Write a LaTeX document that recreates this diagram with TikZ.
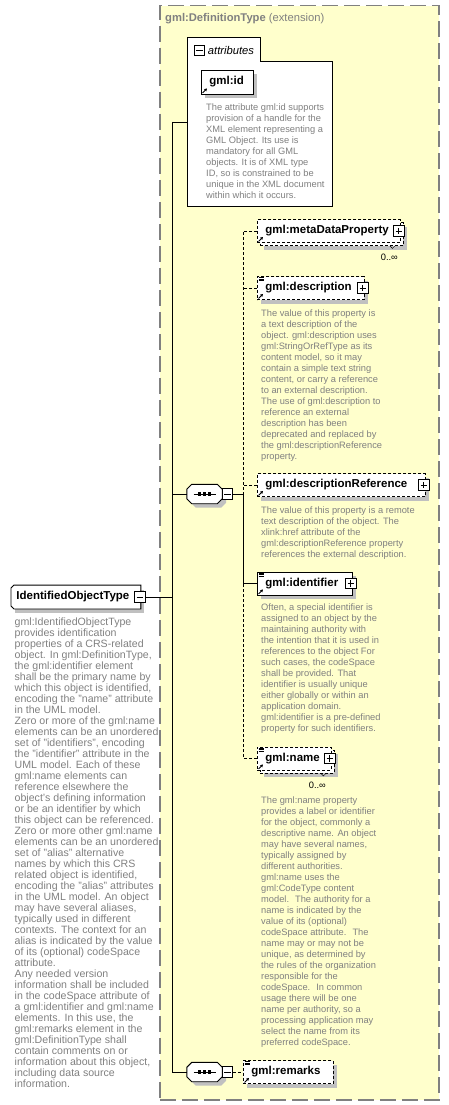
\documentclass[tikz,border=0pt]{standalone}
\usepackage{fontspec}
\setmainfont{Liberation Sans}
\usetikzlibrary{arrows.meta, positioning, calc, shadows}

\definecolor{colExt}{RGB}{255,255,204}
\definecolor{colFrame}{RGB}{128,128,128}
\definecolor{colDoc}{RGB}{128,128,128}
\definecolor{colShade}{RGB}{192,192,192}

% compositor octagon around an empty node: shadow, body, dots
\newcommand{\seqshape}[1]{%
  \fill[colShade, transform canvas={shift={(4pt,-4pt)}}]
    ([xshift=5pt]#1.north west) -- ([xshift=-5pt]#1.north east) -- ([yshift=-5pt]#1.north east)
    -- ([yshift=5pt]#1.south east) -- ([xshift=-5pt]#1.south east) -- ([xshift=5pt]#1.south west)
    -- ([yshift=5pt]#1.south west) -- ([yshift=-5pt]#1.north west) -- cycle;
  \draw[wire, fill=white]
    ([xshift=5pt]#1.north west) -- ([xshift=-5pt]#1.north east) -- ([yshift=-5pt]#1.north east)
    -- ([yshift=5pt]#1.south east) -- ([xshift=-5pt]#1.south east) -- ([xshift=5pt]#1.south west)
    -- ([yshift=5pt]#1.south west) -- ([yshift=-5pt]#1.north west) -- cycle;
  \draw[wire] ([xshift=-11pt]#1.center) -- ([xshift=11pt]#1.center);
  \foreach \dx in {-5,0,5}
    \fill ([xshift=\dx pt]#1.center) +(-1.6pt,-1.6pt) rectangle +(1.6pt,1.6pt);
}
% documentation mark (top left) and reference mark (bottom left)
\newcommand{\docmark}[1]{%
  \draw[line width=0.6pt]
    ([xshift=1.5pt,yshift=-1.3pt]#1.north west) -- ++(5,0)
    ([xshift=1.5pt,yshift=-2.9pt]#1.north west) -- ++(5,0)
    ([xshift=1.5pt,yshift=-4.5pt]#1.north west) -- ++(5,0);}
\newcommand{\refmark}[1]{%
  \draw[line width=0.9pt, -{Triangle[length=2.6pt, width=2.8pt]}]
    ([xshift=1.5pt,yshift=1.5pt]#1.south west) -- ++(4.5,-4.5);}

\begin{document}
\begin{tikzpicture}[x=1pt, y=-1pt,
  wire/.style={line width=0.9pt},
  opt/.style={dash pattern=on 3pt off 2pt},
  elem/.style={draw, fill=white, line width=0.9pt, anchor=west, minimum height=23pt,
               inner xsep=8pt, inner ysep=0pt, align=left,
               font=\fontsize{11.5}{13}\selectfont\bfseries},
  boxshadow/.style={drop shadow={shadow xshift=4pt, shadow yshift=-4pt, opacity=1, fill=colShade}},
  stacked/.style={drop shadow={shadow xshift=7pt, shadow yshift=-7pt, opacity=1, fill=colShade},
                  general shadow={draw, fill=white, opt, shadow scale=1,
                                  shadow xshift=3pt, shadow yshift=-3pt}},
  docs/.style={anchor=north west, inner sep=0pt, align=left, text=colDoc,
               font=\fontsize{9.3}{11}\selectfont},
  occurs/.style={anchor=east, inner sep=0pt, font=\fontsize{9.3}{11}\selectfont},
  pbox/.style={draw, fill=white, line width=1pt, minimum size=10.5pt, inner sep=0pt,
               path picture={\draw[line width=1pt]
                 ([xshift=2pt]path picture bounding box.west) -- ([xshift=-2pt]path picture bounding box.east)
                 ([yshift=-2pt]path picture bounding box.north) -- ([yshift=2pt]path picture bounding box.south);}},
  mbox/.style={draw, fill=white, line width=1pt, minimum size=10.5pt, inner sep=0pt,
               path picture={\draw[line width=1pt]
                 ([xshift=2pt]path picture bounding box.west) -- ([xshift=-2pt]path picture bounding box.east);}},
  seq/.style={minimum width=35pt, minimum height=19pt, inner sep=0pt},
]
\useasboundingbox (0,0) rectangle (449,1105);

% extension frame
\node[draw=colFrame, fill=colExt, line width=1.5pt, dash pattern=on 16pt off 6pt,
      anchor=north west, minimum width=279pt, minimum height=1094pt, inner sep=0pt] (ext) at (159,5) {};
\node[anchor=west, inner sep=0pt, text=colFrame, font=\fontsize{11.2}{13}\selectfont] (extlbl)
  at (165,19) {\textbf{gml:DefinitionType} (extension)};

% attributes group
\node[anchor=north west, minimum width=145pt, minimum height=145pt, inner sep=0pt] (attrs) at (187,61) {};
\node[anchor=south west, minimum width=73pt, minimum height=23pt, inner sep=0pt] (attrtab) at (attrs.north west) {};
\draw[wire, fill=white] (attrtab.north west) -- (attrtab.north east) -- (attrtab.south east)
  -- (attrs.north east) -- (attrs.south east) -- (attrs.south west) -- cycle;
\node[mbox] (attrm) at ([xshift=12.5pt,yshift=-1pt]attrtab.west) {};
\node[anchor=west, inner sep=0pt, font=\fontsize{11.2}{13}\selectfont\itshape] (attrlbl)
  at ([xshift=2.5pt]attrm.east) {attributes};
\node[elem, boxshadow, minimum height=24pt, text width=36pt] (gid) at (201,82) {gml:id};
\refmark{gid}
\node[docs] (giddoc) at (206,103.6) {The attribute gml:id supports\\
provision of a handle for the\\
XML element representing a\\
GML Object. Its use is\\
mandatory for all GML\\
objects. It is of XML type\\
ID, so is constrained to be\\
unique in the XML document\\
within which it occurs.};

% trunk
\coordinate (trunk) at (172.5,122);
\draw[wire] (trunk) -- (trunk -| attrs.west);

% complex type
\node[elem, boxshadow, draw=none, inner xsep=5pt, text width=119pt] (iot) at (11,597) {IdentifiedObjectType};
\draw[wire] ([xshift=3pt]iot.north west) -- (iot.north east) -- (iot.south east)
  -- ([xshift=3pt]iot.south west) -- ([yshift=3pt]iot.south west) -- ([yshift=-3pt]iot.north west) -- cycle;
\node[mbox] (iotm) at ([xshift=-1pt]iot.east) {};
\draw[wire] (iotm.east) -- (iotm.east -| trunk);
\node[docs, font=\fontsize{10.6}{11}\selectfont] (iotdoc) at (14.5,618) {gml:IdentifiedObjectType\\
provides identification\\
properties of a CRS-related\\
object. In gml:DefinitionType,\\
the gml:identifier element\\
shall be the primary name by\\
which this object is identified,\\
encoding the "name" attribute\\
in the UML model.\\
Zero or more of the gml:name\\
elements can be an unordered\\
set of "identifiers", encoding\\
the "identifier" attribute in the\\
UML model. Each of these\\
gml:name elements can\\
reference elsewhere the\\
object's defining information\\
or be an identifier by which\\
this object can be referenced.\\
Zero or more other gml:name\\
elements can be an unordered\\
set of "alias" alternative\\
names by which this CRS\\
related object is identified,\\
encoding the "alias" attributes\\
in the UML model. An object\\
may have several aliases,\\
typically used in different\\
contexts. The context for an\\
alias is indicated by the value\\
of its (optional) codeSpace\\
attribute.\\
Any needed version\\
information shall be included\\
in the codeSpace attribute of\\
a gml:identifier and gml:name\\
elements. In this use, the\\
gml:remarks element in the\\
gml:DefinitionType shall\\
contain comments on or\\
information about this object,\\
including data source\\
information.};

% first sequence
\node[seq] (seq1) at (204.5,494) {};
\seqshape{seq1}
\node[mbox] (seq1m) at ([xshift=5.5pt]seq1.east) {};
\draw[wire] (seq1.west) -- (seq1.west -| trunk);
\coordinate (bus) at ([xshift=10pt]seq1m.east);
\draw[wire] (seq1m.east) -- (bus);

% elements of the sequence
\node[elem, stacked, opt, text width=127pt] (meta) at (257,231) {gml:metaDataProperty};
\refmark{meta}
\node[pbox] (metap) at ([xshift=-2pt]meta.east) {};
\draw[line width=0.5pt] ([xshift=-11pt,yshift=-3pt]meta.south east) -- ++(2.5,2.5) -- ++(2.5,-2.5);
\node[occurs] (metaocc) at (398,257) {0..∞};

\node[elem, boxshadow, opt, text width=91pt] (desc) at (257,288) {gml:description};
\docmark{desc}
\refmark{desc}
\node[pbox] (descp) at ([xshift=-2pt]desc.east) {};
\node[docs] (descdoc) at (261,309.6) {The value of this property is\\
a text description of the\\
object. gml:description uses\\
gml:StringOrRefType as its\\
content model, so it may\\
contain a simple text string\\
content, or carry a reference\\
to an external description.\\
The use of gml:description to\\
reference an external\\
description has been\\
deprecated and replaced by\\
the gml:descriptionReference\\
property.};

\node[elem, boxshadow, opt, text width=152pt] (dref) at (257,485) {gml:descriptionReference};
\refmark{dref}
\node[pbox] (drefp) at ([xshift=-2pt]dref.east) {};
\node[docs] (drefdoc) at (261,506.6) {The value of this property is a remote\\
text description of the object. The\\
xlink:href attribute of the\\
gml:descriptionReference property\\
references the external description.};

\node[elem, boxshadow, text width=79pt] (ident) at (257,583.5) {gml:identifier};
\docmark{ident}
\refmark{ident}
\node[pbox] (identp) at ([xshift=-2pt]ident.east) {};
\node[docs] (identdoc) at (261,603.6) {Often, a special identifier is\\
assigned to an object by the\\
maintaining authority with\\
the intention that it is used in\\
references to the object For\\
such cases, the codeSpace\\
shall be provided. That\\
identifier is usually unique\\
either globally or within an\\
application domain.\\
gml:identifier is a pre-defined\\
property for such identifiers.};

\node[elem, stacked, opt, text width=58pt] (gname) at (257,758.5) {gml:name};
\docmark{gname}
\refmark{gname}
\node[pbox] (gnamep) at ([xshift=-2pt]gname.east) {};
\draw[line width=0.5pt] ([xshift=-11pt,yshift=-3pt]gname.south east) -- ++(2.5,2.5) -- ++(2.5,-2.5);
\node[occurs] (gnameocc) at (326,785) {0..∞};
\node[docs] (gnamedoc) at (261,796.6) {The gml:name property\\
provides a label or identifier\\
for the object, commonly a\\
descriptive name. An object\\
may have several names,\\
typically assigned by\\
different authorities.\\
gml:name uses the\\
gml:CodeType content\\
model.~ The authority for a\\
name is indicated by the\\
value of its (optional)\\
codeSpace attribute.~ The\\
name may or may not be\\
unique, as determined by\\
the rules of the organization\\
responsible for the\\
codeSpace.~ In common\\
usage there will be one\\
name per authority, so a\\
processing application may\\
select the name from its\\
preferred codeSpace.};

% bus connectors
\draw[wire, opt] (meta.west) -| (bus);
\draw[wire, opt] (desc.west) -- (desc.west -| bus);
\draw[wire, opt] (dref.west) -- (dref.west -| bus);
\draw[wire] (ident.west) -| (bus);
\draw[wire, opt] (gname.west) -| (ident.west -| bus);

% second sequence
\node[seq] (seq2) at (204.5,1072) {};
\seqshape{seq2}
\node[mbox] (seq2m) at ([xshift=5.5pt]seq2.east) {};
\draw[wire] (trunk) |- (seq2.west);
\node[elem, boxshadow, opt, text width=74pt] (remarks) at (243,1072) {gml:remarks};
\docmark{remarks}
\refmark{remarks}
\draw[wire, opt] (seq2m.east) -- (remarks.west);

\end{tikzpicture}
\end{document}
